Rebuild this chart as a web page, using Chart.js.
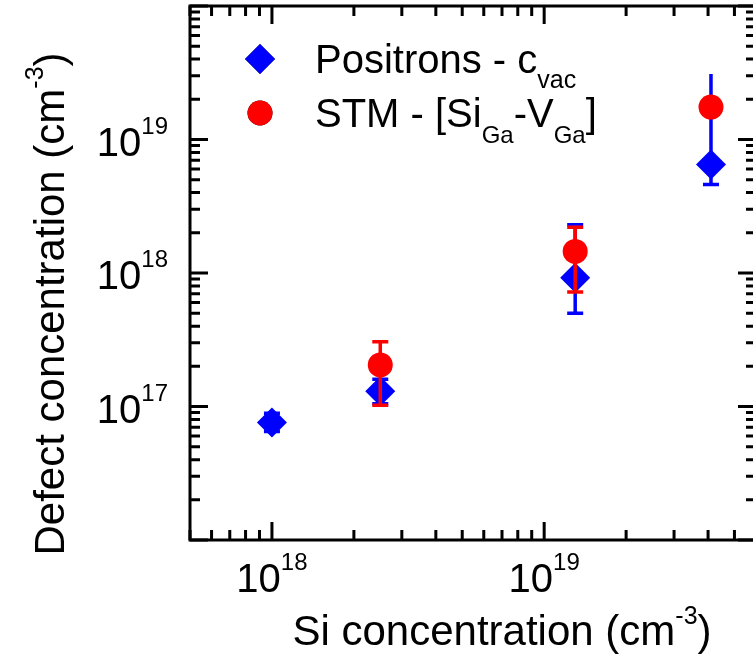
<!DOCTYPE html>
<html>
<head>
<meta charset="utf-8">
<script src="https://cdn.jsdelivr.net/npm/chart.js@4/dist/chart.umd.min.js"></script>
<style>
  html, body { margin: 0; padding: 0; background: #fff; overflow: hidden; }
  #wrap { width: 770px; height: 656px; }
</style>
</head>
<body>
<div id="wrap"><canvas id="myChart" width="770" height="656"></canvas></div>
<script>
// Si doping level of each sample (cm^-3)
const siPositron = [1e18, 2.5e18, 1.3e19, 4.1e19];
const siStm = [2.5e18, 1.3e19, 4.1e19];

// vacancy concentration from positron annihilation, with error range
const cVac = [7.6e16, 1.3e17, 9.2e17, 6.5e18];
const cVacHigh = [8.9e16, 1.6e17, 2.3e18, 3.1e19];
const cVacLow = [6.5e16, 1.05e17, 5e17, 4.6e18];

// [SiGa-VGa] complexes counted in STM
const stmComplex = [2.05e17, 1.45e18, 1.75e19];
const stmHigh = [3.05e17, 2.2e18, null];
const stmLow = [1.02e17, 7.2e17, null];

// axis ranges and labelled decades
const xRange = [5e17, 6e19];
const yRange = [1e16, 1e20];
const xDecades = [18, 19];
const yDecades = [17, 18, 19];

const FONT = '"Liberation Sans", Arial, sans-serif';

function toPoints(xs, ys, hi, lo) {
  return xs.map((x, i) => ({ x: x, y: ys[i], hi: hi[i], lo: lo[i] }));
}

// text with a raised or lowered part, e.g. 10^18 or c_vac
function richText(ctx, parts, x, y, align) {
  let total = 0;
  parts.forEach(p => {
    ctx.font = p.size + 'px ' + FONT;
    p.w = ctx.measureText(p.t).width;
    total += p.w;
  });
  let cx = x;
  if (align === 'center') cx = x - total / 2;
  if (align === 'right') cx = x - total;
  ctx.textAlign = 'left';
  ctx.textBaseline = 'alphabetic';
  parts.forEach(p => {
    ctx.font = p.size + 'px ' + FONT;
    ctx.fillText(p.t, cx, y + (p.dy || 0));
    cx += p.w;
  });
}

const errorBars = {
  id: 'errorBars',
  beforeDatasetDraw(chart, args) {
    const ctx = chart.ctx;
    const ds = chart.data.datasets[args.index];
    const xs = chart.scales.x, ys = chart.scales.y;
    const open = ds.openTop || [];
    ctx.save();
    ctx.strokeStyle = ds.backgroundColor;
    ctx.lineWidth = 3.5;
    ds.data.forEach((p, i) => {
      if (p.hi == null) return;
      const px = xs.getPixelForValue(p.x);
      const top = ys.getPixelForValue(p.hi);
      const bot = ys.getPixelForValue(p.lo);
      ctx.beginPath();
      ctx.moveTo(px, top); ctx.lineTo(px, bot);
      if (!open[i]) { ctx.moveTo(px - 8, top); ctx.lineTo(px + 8, top); }
      ctx.moveTo(px - 8, bot); ctx.lineTo(px + 8, bot);
      ctx.stroke();
    });
    ctx.restore();
  }
};

function minorValues(range) {
  const out = [];
  for (let e = Math.floor(Math.log10(range[0])); e <= Math.ceil(Math.log10(range[1])); e++) {
    for (let m = 1; m <= 9; m++) {
      const v = m * Math.pow(10, e);
      if (v >= range[0] * 0.999 && v <= range[1] * 1.001) out.push({ v: v, major: m === 1 });
    }
  }
  return out;
}

// frame with inward ticks on all four sides, labels and titles
const frame = {
  id: 'frame',
  afterDraw(chart) {
    const ctx = chart.ctx;
    const a = chart.chartArea;
    const xs = chart.scales.x, ys = chart.scales.y;
    ctx.save();
    ctx.strokeStyle = '#000';
    ctx.lineWidth = 3;
    ctx.lineCap = 'butt';
    ctx.strokeRect(a.left, a.top, a.right - a.left, a.bottom - a.top);

    ctx.beginPath();
    minorValues(xRange).forEach(t => {
      const px = xs.getPixelForValue(t.v);
      const len = t.major ? 18 : 10;
      ctx.moveTo(px, a.bottom); ctx.lineTo(px, a.bottom - len);
      ctx.moveTo(px, a.top); ctx.lineTo(px, a.top + len);
    });
    minorValues(yRange).forEach(t => {
      const py = ys.getPixelForValue(t.v);
      const len = t.major ? 18 : 10;
      ctx.moveTo(a.left, py); ctx.lineTo(a.left + len, py);
      ctx.moveTo(a.right, py); ctx.lineTo(a.right - len, py);
    });
    ctx.stroke();

    ctx.fillStyle = '#000';
    xDecades.forEach(d => {
      const px = xs.getPixelForValue(Math.pow(10, d));
      richText(ctx, [{ t: '10', size: 40 }, { t: String(d), size: 24, dy: -22 }], px, 592, 'center');
    });
    yDecades.forEach(d => {
      const py = ys.getPixelForValue(Math.pow(10, d));
      richText(ctx, [{ t: '10', size: 40 }, { t: String(d), size: 24, dy: -22 }], 168, py + 16, 'right');
    });

    richText(ctx, [
      { t: 'Si concentration (cm', size: 42 },
      { t: '-3', size: 25, dy: -21 },
      { t: ')', size: 42 }
    ], 502, 645, 'center');

    ctx.save();
    ctx.translate(64, 304);
    ctx.rotate(-Math.PI / 2);
    richText(ctx, [
      { t: 'Defect concentration (cm', size: 42 },
      { t: '-3', size: 25, dy: -21 },
      { t: ')', size: 42 }
    ], 0, 0, 'center');
    ctx.restore();

    // legend
    const items = [
      { ds: 0, y: 73, parts: [{ t: 'Positrons - c', size: 40 }, { t: 'vac', size: 25, dy: 15 }] },
      { ds: 1, y: 127, parts: [{ t: 'STM - [Si', size: 40 }, { t: 'Ga', size: 24, dy: 16 }, { t: '-V', size: 40 }, { t: 'Ga', size: 24, dy: 16 }, { t: ']', size: 40 }] }
    ];
    items.forEach(it => {
      const ds = chart.data.datasets[it.ds];
      Chart.helpers.drawPoint(ctx, {
        pointStyle: ds.pointStyle, radius: ds.pointRadius, borderWidth: 0
      }, 260, it.y - 14);
      ctx.fillStyle = ds.backgroundColor;
      ctx.fill();
      ctx.fillStyle = '#000';
      richText(ctx, it.parts, 315, it.y, 'left');
    });
    ctx.restore();
  }
};

new Chart(document.getElementById('myChart'), {
  type: 'scatter',
  data: {
    datasets: [
      {
        label: 'Positrons - c_vac',
        data: toPoints(siPositron, cVac, cVacHigh, cVacLow),
        openTop: [false, false, false, true],
        pointStyle: 'rectRot',
        pointRadius: 15,
        backgroundColor: '#0000ff',
        borderWidth: 0,
        order: 2
      },
      {
        label: 'STM - [Si_Ga-V_Ga]',
        data: toPoints(siStm, stmComplex, stmHigh, stmLow),
        pointStyle: 'circle',
        pointRadius: 12.5,
        backgroundColor: '#ff0000',
        borderWidth: 0,
        order: 1
      }
    ]
  },
  options: {
    responsive: false,
    animation: false,
    layout: { autoPadding: false, padding: { left: 190, right: 14, top: 6, bottom: 116 } },
    plugins: { legend: { display: false }, tooltip: { enabled: false } },
    scales: {
      x: { type: 'logarithmic', min: xRange[0], max: xRange[1], display: false },
      y: { type: 'logarithmic', min: yRange[0], max: yRange[1], display: false }
    }
  },
  plugins: [errorBars, frame]
});
</script>
</body>
</html>
